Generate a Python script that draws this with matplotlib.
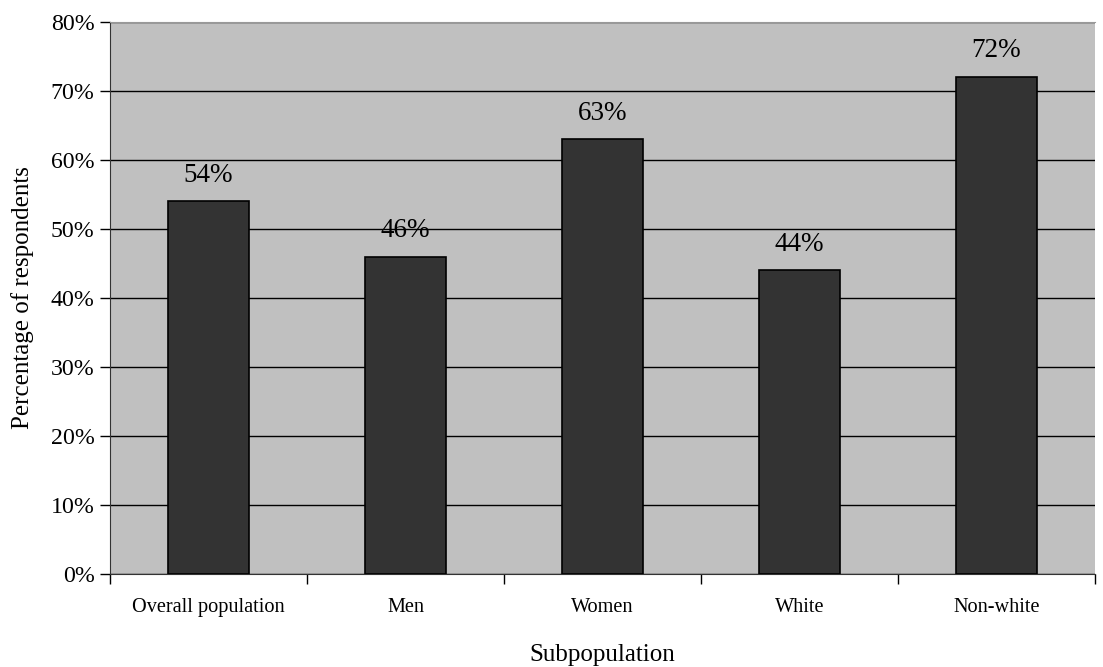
import matplotlib.pyplot as plt
from matplotlib.ticker import FuncFormatter, MultipleLocator

categories = ["Overall population", "Men", "Women", "White", "Non-white"]
values = [54, 46, 63, 44, 72]

plt.rcParams["font.family"] = ["Liberation Serif", "DejaVu Serif"]

fig = plt.figure(figsize=(11.03, 6.67), dpi=100)
ax = fig.add_axes([0.0997, 0.1394, 0.8930, 0.8276])
ax.set_facecolor("#c0c0c0")

x = range(len(categories))
bars = ax.bar(x, values, width=0.41, color="#333333", edgecolor="black", linewidth=1.2, zorder=3)
for b, v in zip(bars, values):
    ax.text(b.get_x() + b.get_width() / 2, v + 2.0, f"{v}%", ha="center", va="bottom",
            fontsize=19.5, zorder=4)

ax.set_xlim(-0.5, len(categories) - 0.5)
ax.set_ylim(0, 80)
ax.yaxis.set_major_locator(MultipleLocator(10))
ax.yaxis.set_major_formatter(FuncFormatter(lambda v, p: f"{v:.0f}%"))
ax.grid(axis="y", color="black", linewidth=1, zorder=1)

# category labels centred under bars, tick marks on the boundaries
ax.set_xticks(list(x))
ax.set_xticklabels(categories, fontsize=14.6)
ax.tick_params(axis="x", length=0, pad=17)
ax.set_xticks([i + 0.5 for i in range(-1, len(categories))], minor=True)
ax.tick_params(axis="x", which="minor", length=7, width=1, direction="out")
ax.tick_params(axis="y", length=7, width=1, labelsize=17.2, pad=4)

ax.spines["right"].set_visible(False)
ax.spines["top"].set_color("#999999")
ax.spines["left"].set_color("#333333")
ax.spines["bottom"].set_color("#333333")

ax.set_xlabel("Subpopulation", fontsize=18, labelpad=20)
ax.set_ylabel("Percentage of respondents", fontsize=18, labelpad=12)

fig.savefig("out.png", dpi=100)
